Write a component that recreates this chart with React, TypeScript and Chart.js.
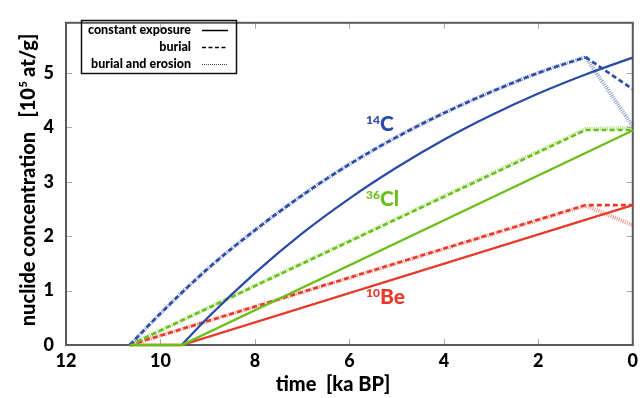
import React, { useEffect, useRef } from "react";
import { Chart, registerables } from "chart.js";

Chart.register(...registerables);

// ---- data (time in ka BP, concentration in 10^5 at/g) ----
const xTickValues = [12, 10, 8, 6, 4, 2, 0];
const yTickValues = [0, 1, 2, 3, 4, 5];

const c14ExposureTime = [9.55, 9, 8, 7, 6, 5, 4, 3, 2, 1, 0];
const c14Exposure = [0, 0.5, 1.32, 2.05, 2.69, 3.26, 3.77, 4.22, 4.62, 4.97, 5.28];
const c14RiseTime = [10.65, 10, 9, 8, 7, 6, 5, 4, 3, 2, 1];
const c14Rise = [0, 0.58, 1.4, 2.11, 2.75, 3.32, 3.82, 4.26, 4.65, 5.0, 5.29];
const afterBurialTime = [1, 0];
const c14BurialEnd = [5.29, 4.7];
const c14ErosionEnd = [5.29, 4.02];

const exposureTime = [10.65, 9.55, 0];
const burialTime = [10.65, 1, 0];

const cl36Exposure = [0, 0, 3.94];
const cl36Burial = [0, 3.95, 3.95];
const cl36Erosion = [0, 3.97, 3.99];

const be10Exposure = [0, 0, 2.57];
const be10Burial = [0, 2.57, 2.57];
const be10Erosion = [0, 2.56, 2.2];

const legendLabels = ["constant exposure", "burial", "burial and erosion"];

const BLUE = "#2b4ca6";
const BLUE_LIGHT = "rgba(43,76,166,0.55)";
const GREEN = "#6abf18";
const GREEN_LIGHT = "rgba(106,191,24,0.55)";
const RED = "#e83a2a";
const RED_LIGHT = "rgba(232,58,42,0.55)";

const FONT = "Lato, 'Open Sans', 'DejaVu Sans', sans-serif";
const W = "900";

function pts(t: number[], v: number[]) {
  return t.map((x, i) => ({ x, y: v[i] }));
}

function solid(color: string, data: any[], order: number, mono = false) {
  return {
    data,
    borderColor: color,
    borderWidth: 2.3,
    pointRadius: 0,
    showLine: true,
    fill: false,
    order,
    clip: 6,
    cubicInterpolationMode: mono ? "monotone" : "default",
  };
}
function dashed(color: string, data: any[], order: number, mono = false) {
  return { ...solid(color, data, order, mono), borderWidth: 2.6, borderDash: [5, 3] };
}
function dotted(color: string, data: any[], order: number, mono = false) {
  return { ...solid(color, data, order, mono), borderWidth: 4, borderDash: [1, 1.2] };
}

const decorPlugin = {
  id: "decor",
  beforeDatasetsDraw(chart: any) {
    const { ctx, chartArea } = chart;
    const { left, right, top, bottom } = chartArea;
    const xs = chart.scales.x;
    const ys = chart.scales.y;
    ctx.save();
    ctx.strokeStyle = "#aaaaaa";
    ctx.lineWidth = 1;
    ctx.beginPath();
    xTickValues.forEach((v) => {
      const px = Math.round(xs.getPixelForValue(v)) + 0.5;
      ctx.moveTo(px, bottom);
      ctx.lineTo(px, bottom - 6);
      ctx.moveTo(px, top);
      ctx.lineTo(px, top + 6);
    });
    yTickValues.forEach((v) => {
      const py = Math.round(ys.getPixelForValue(v)) + 0.5;
      ctx.moveTo(left, py);
      ctx.lineTo(left + 6, py);
      ctx.moveTo(right, py);
      ctx.lineTo(right - 6, py);
    });
    ctx.stroke();
    ctx.strokeStyle = "#5a5a5a";
    ctx.lineWidth = 2;
    ctx.strokeRect(left, top, right - left, bottom - top);
    ctx.restore();
  },
  afterDraw(chart: any) {
    const { ctx } = chart;
    ctx.save();
    // legend box
    ctx.strokeStyle = "#111";
    ctx.lineWidth = 1.5;
    ctx.strokeRect(81.5, 20.5, 155, 53);
    ctx.fillStyle = "#000";
    ctx.font = `${W} 12.5px ${FONT}`;
    ctx.textAlign = "right";
    ctx.textBaseline = "middle";
    const rows = [30, 47, 64];
    legendLabels.forEach((t, i) => ctx.fillText(t, 191, rows[i], 104));
    ctx.strokeStyle = "#000";
    ctx.lineWidth = 1.5;
    ctx.setLineDash([]);
    ctx.beginPath();
    ctx.moveTo(202, rows[0] + 0.5);
    ctx.lineTo(228, rows[0] + 0.5);
    ctx.stroke();
    ctx.setLineDash([4, 2.5]);
    ctx.beginPath();
    ctx.moveTo(202, rows[1] + 0.5);
    ctx.lineTo(228, rows[1] + 0.5);
    ctx.stroke();
    ctx.lineWidth = 1;
    ctx.setLineDash([1, 1]);
    ctx.strokeStyle = "#444";
    ctx.beginPath();
    ctx.moveTo(202, rows[2] + 0.5);
    ctx.lineTo(228, rows[2] + 0.5);
    ctx.stroke();
    ctx.setLineDash([]);

    // isotope labels
    const iso = (sup: string, main: string, baseline: number, color: string) => {
      ctx.fillStyle = color;
      ctx.textAlign = "left";
      ctx.textBaseline = "alphabetic";
      ctx.font = `${W} 12px ${FONT}`;
      ctx.fillText(sup, 366, baseline - 7);
      ctx.font = `${W} 21px ${FONT}`;
      ctx.fillText(main, 380, baseline);
    };
    iso("14", "C", 131, BLUE);
    iso("36", "Cl", 206, GREEN);
    iso("10", "Be", 304, RED);

    // axis titles
    ctx.fillStyle = "#000";
    ctx.textBaseline = "alphabetic";
    ctx.textAlign = "left";
    ctx.font = `${W} 20px ${FONT}`;
    const xt = "time  [ka BP]";
    const xw = ctx.measureText(xt).width;
    ctx.fillText(xt, 333 - xw / 2, 391);

    ctx.save();
    ctx.translate(35, 180);
    ctx.rotate(-Math.PI / 2);
    const p1 = "nuclide concentration   [10";
    const p2 = "5";
    const p3 = " at/g]";
    ctx.font = `${W} 20px ${FONT}`;
    const w1 = ctx.measureText(p1).width;
    const w3 = ctx.measureText(p3).width;
    ctx.font = `${W} 11px ${FONT}`;
    const w2 = ctx.measureText(p2).width;
    let u = -(w1 + w2 + w3) / 2;
    ctx.font = `${W} 20px ${FONT}`;
    ctx.fillText(p1, u, 0);
    u += w1;
    ctx.font = `${W} 11px ${FONT}`;
    ctx.fillText(p2, u + 0.5, -8);
    u += w2;
    ctx.font = `${W} 20px ${FONT}`;
    ctx.fillText(p3, u, 0);
    ctx.restore();

    ctx.restore();
  },
};

export default function App() {
  const ref = useRef<HTMLCanvasElement>(null);
  useEffect(() => {
    document.body.style.margin = "0";
    const canvas = ref.current;
    if (!canvas) return;
    const chart = new Chart(canvas, {
      type: "scatter",
      data: {
        datasets: [
          dotted(BLUE_LIGHT, pts(c14RiseTime, c14Rise), 30, true),
          dotted(BLUE_LIGHT, pts(afterBurialTime, c14ErosionEnd), 30),
          dotted(GREEN_LIGHT, pts(burialTime, cl36Erosion), 31),
          dotted(RED_LIGHT, pts(burialTime, be10Erosion), 32),
          dashed(BLUE, pts(c14RiseTime, c14Rise), 20, true),
          dashed(BLUE, pts(afterBurialTime, c14BurialEnd), 20),
          dashed(GREEN, pts(burialTime, cl36Burial), 21),
          dashed(RED, pts(burialTime, be10Burial), 22),
          solid(BLUE, pts(c14ExposureTime, c14Exposure), 10, true),
          solid(RED, pts(exposureTime, be10Exposure), 11),
          solid(GREEN, pts(exposureTime, cl36Exposure), 5),
        ] as any,
      },
      options: {
        responsive: false,
        animation: false,
        layout: { padding: { top: 11, right: 9, left: 0, bottom: 0 } },
        plugins: { legend: { display: false }, tooltip: { enabled: false } },
        elements: { line: { tension: 0 } },
        scales: {
          x: {
            type: "linear",
            reverse: true,
            min: 0,
            max: 12,
            grid: { display: false, drawTicks: false },
            border: { display: false },
            ticks: {
              stepSize: 2,
              autoSkip: false,
              maxRotation: 0,
              padding: 5,
              color: "#000",
              font: { family: FONT, size: 18, weight: W },
            },
            afterFit: (s: any) => {
              s.height = 53;
            },
          },
          y: {
            type: "linear",
            min: 0,
            max: 5.92,
            grid: { display: false, drawTicks: false },
            border: { display: false },
            ticks: {
              stepSize: 1,
              padding: 12,
              color: "#000",
              font: { family: FONT, size: 18, weight: W },
            },
            afterBuildTicks: (s: any) => {
              s.ticks = s.ticks.filter((t: any) => Number.isInteger(t.value));
            },
            afterFit: (s: any) => {
              s.width = 66;
            },
          },
        },
      } as any,
      plugins: [decorPlugin],
    });
    return () => chart.destroy();
  }, []);
  return <canvas ref={ref} width={643} height={398} style={{ display: "block" }} />;
}
